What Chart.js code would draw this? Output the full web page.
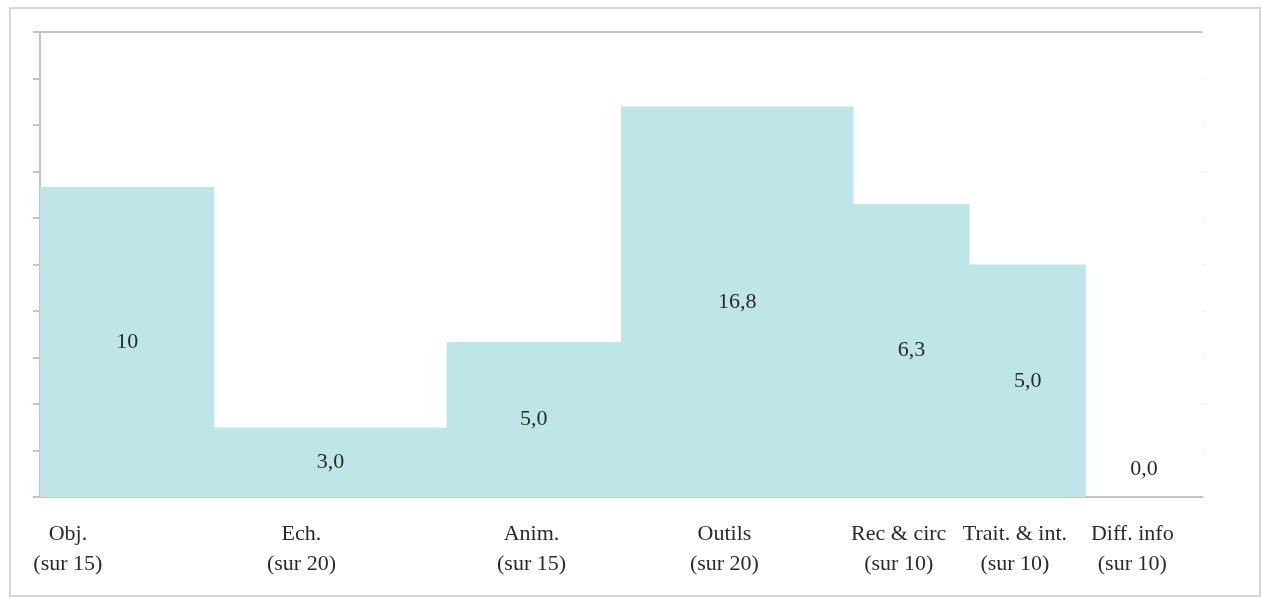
<!DOCTYPE html>
<html>
<head>
<meta charset="utf-8">
<script src="https://cdn.jsdelivr.net/npm/chart.js@4/dist/chart.umd.min.js"></script>
<style>
  html, body { margin: 0; padding: 0; background: #fff; width: 1262px; height: 597px; overflow: hidden; }
  #wrap { position: relative; width: 1262px; height: 597px; }
  #frame { position: absolute; left: 9px; top: 7px; right: 1px; bottom: 0px; border: 2px solid #d6d6d6; pointer-events: none; }
  canvas { position: absolute; left: 0; top: 0; }
</style>
</head>
<body>
<div id="wrap">
  <canvas id="c" width="1262" height="597"></canvas>
  <div id="frame"></div>
</div>
<script>
// ---- Data ----
const categories = ['Obj.', 'Ech.', 'Anim.', 'Outils', 'Rec & circ', 'Trait. & int.', 'Diff. info'];
const maxScores = [15, 20, 15, 20, 10, 10, 10];
const scores = [10, 3.0, 5.0, 16.8, 6.3, 5.0, 0.0];
const scoreLabels = ['10', '3,0', '5,0', '16,8', '6,3', '5,0', '0,0'];
const categoryTickPositions = [2.4, 22.5, 42.3, 58.9, 73.9, 83.9, 94.0];

// ---- Derived ----
const starts = [];
let acc = 0;
maxScores.forEach(m => { starts.push(acc); acc += m; });
const total = acc;
const pct = scores.map((s, i) => s / maxScores[i] * 100);
const stepPoints = pct.map((p, i) => ({ x: starts[i], y: p }));
stepPoints.push({ x: total, y: pct[pct.length - 1] });

const FONT = "'Liberation Serif', 'Times New Roman', serif";
const GRAY = '#c4c4c4';

const valueLabels = {
  id: 'valueLabels',
  afterDatasetsDraw(chart) {
    const { ctx, scales: { x, y } } = chart;
    ctx.save();
    ctx.font = '22px ' + FONT;
    ctx.fillStyle = '#2a2a2a';
    ctx.textAlign = 'center';
    ctx.textBaseline = 'middle';
    const base = y.getPixelForValue(0);
    pct.forEach((p, i) => {
      const cx = x.getPixelForValue(starts[i] + maxScores[i] / 2);
      const top = y.getPixelForValue(p);
      const cy = Math.min((top + base) / 2, base - 28);
      ctx.fillText(scoreLabels[i], cx, cy);
    });
    ctx.restore();
  }
};

new Chart(document.getElementById('c'), {
  type: 'line',
  data: {
    datasets: [{
      data: stepPoints,
      stepped: true,
      fill: 'origin',
      backgroundColor: '#bee6e8',
      borderColor: 'rgba(0,0,0,0)',
      borderWidth: 0,
      pointRadius: 0,
      tension: 0
    }]
  },
  options: {
    responsive: false,
    animation: false,
    devicePixelRatio: 1,
    layout: { padding: { left: 33, top: 32, right: 58, bottom: -4 } },
    plugins: { legend: { display: false }, tooltip: { enabled: false } },
    scales: {
      x: {
        type: 'linear',
        min: 0,
        max: total,
        afterBuildTicks(scale) {
          scale.ticks = categoryTickPositions.map(v => ({ value: v }));
        },
        ticks: {
          autoSkip: false,
          maxRotation: 0,
          padding: 22,
          color: '#2a2a2a',
          font: { family: FONT, size: 22, lineHeight: 1.36 },
          callback(value, index) {
            return [categories[index], '(sur ' + maxScores[index] + ')'];
          }
        },
        grid: { display: false, drawTicks: false },
        border: { display: true, color: GRAY, width: 2 }
      },
      y: {
        min: 0,
        max: 100,
        ticks: { display: false, stepSize: 10 },
        grid: {
          drawTicks: true,
          tickLength: 7,
          tickColor: GRAY,
          lineWidth: 2,
          color: c => (c.tick && c.tick.value === 100) ? GRAY : 'rgba(0,0,0,0)'
        },
        border: { display: true, color: GRAY, width: 2 }
      },
      y2: {
        position: 'right',
        min: 0,
        max: 100,
        ticks: { display: false, stepSize: 10 },
        grid: { drawOnChartArea: false, drawTicks: true, tickLength: 2, tickColor: '#e4e4e4', lineWidth: 1 },
        border: { display: false }
      }
    }
  },
  plugins: [valueLabels]
});
</script>
</body>
</html>
